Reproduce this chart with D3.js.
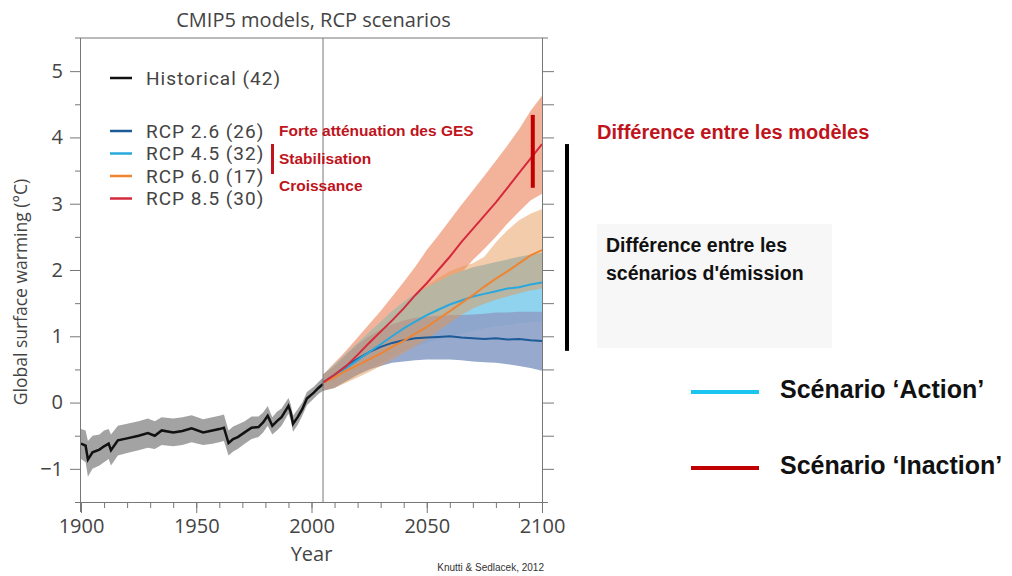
<!DOCTYPE html>
<html>
<head>
<meta charset="utf-8">
<script src="https://cdn.jsdelivr.net/npm/d3@7"></script>
<style>
  body { margin: 0; background: #fff; }
  svg { display: block; }
  .tick text { font-family: "Open Sans", sans-serif; fill: #444; }
  .narrow { font-family: "Liberation Sans Narrow", "Arial Narrow", sans-serif; font-weight: bold; }
</style>
</head>
<body>
<svg id="chart"></svg>
<script>
// historical (CMIP5 multi-model mean and spread)
const histYears = [1900,1902,1903,1905,1908,1910,1912,1913,1916,1920,1925,1929,1932,1935,1940,1944,1948,1953,1957,1960,1962,1964,1966,1968,1971,1974,1977,1979,1981,1983,1985,1987,1990,1991,1992,1994,1996,1998,2001,2003,2005];
const histMean = [-0.62,-0.65,-0.86,-0.75,-0.71,-0.66,-0.62,-0.72,-0.57,-0.54,-0.50,-0.46,-0.50,-0.42,-0.45,-0.43,-0.39,-0.45,-0.42,-0.40,-0.38,-0.61,-0.55,-0.52,-0.45,-0.38,-0.37,-0.30,-0.20,-0.35,-0.28,-0.22,-0.05,-0.15,-0.32,-0.22,-0.10,0.06,0.15,0.22,0.28];
const histLow = [-0.85,-0.90,-1.12,-1.00,-0.95,-0.90,-0.85,-0.95,-0.80,-0.76,-0.72,-0.68,-0.70,-0.64,-0.66,-0.64,-0.60,-0.64,-0.62,-0.60,-0.58,-0.80,-0.74,-0.70,-0.62,-0.55,-0.52,-0.45,-0.35,-0.48,-0.42,-0.35,-0.17,-0.27,-0.44,-0.34,-0.20,-0.04,0.06,0.13,0.18];
const histHigh = [-0.40,-0.42,-0.58,-0.50,-0.48,-0.42,-0.40,-0.48,-0.35,-0.32,-0.28,-0.24,-0.28,-0.22,-0.24,-0.22,-0.19,-0.25,-0.22,-0.20,-0.18,-0.42,-0.36,-0.33,-0.28,-0.21,-0.21,-0.15,-0.05,-0.22,-0.14,-0.09,0.07,-0.03,-0.20,-0.10,0.00,0.16,0.24,0.31,0.38];

// scenarios 2005-2100
const futureYears = [2005,2010,2015,2020,2025,2030,2035,2040,2045,2050,2055,2060,2065,2070,2075,2080,2085,2090,2095,2100];
const rcp26Mean = [0.30,0.42,0.55,0.66,0.76,0.84,0.90,0.94,0.97,0.98,0.99,1.00,0.98,0.97,0.96,0.97,0.95,0.96,0.94,0.93];
const rcp26Low  = [0.18,0.22,0.32,0.42,0.50,0.55,0.60,0.62,0.64,0.65,0.65,0.65,0.64,0.62,0.61,0.60,0.58,0.55,0.52,0.48];
const rcp26High = [0.42,0.55,0.72,0.88,1.00,1.10,1.18,1.24,1.28,1.30,1.31,1.32,1.32,1.33,1.34,1.36,1.36,1.37,1.37,1.37];
const rcp45Mean = [0.30,0.42,0.52,0.64,0.76,0.88,1.00,1.12,1.22,1.32,1.40,1.48,1.54,1.60,1.64,1.68,1.72,1.74,1.78,1.81];
const rcp45Low  = [0.18,0.24,0.32,0.42,0.50,0.60,0.70,0.78,0.85,0.90,0.95,1.00,1.04,1.08,1.12,1.15,1.17,1.20,1.21,1.22];
const rcp45High = [0.42,0.58,0.74,0.90,1.06,1.22,1.38,1.52,1.64,1.74,1.83,1.92,1.98,2.04,2.08,2.12,2.16,2.20,2.23,2.26];
const rcp60Mean = [0.30,0.38,0.48,0.56,0.65,0.74,0.84,0.93,1.04,1.14,1.26,1.38,1.50,1.62,1.75,1.87,1.98,2.10,2.22,2.30];
const rcp60Low  = [0.18,0.22,0.30,0.38,0.46,0.55,0.65,0.75,0.85,0.95,1.08,1.20,1.32,1.42,1.49,1.55,1.60,1.65,1.69,1.72];
const rcp60High = [0.42,0.58,0.74,0.90,1.06,1.22,1.38,1.52,1.64,1.76,1.88,1.98,2.05,2.10,2.20,2.42,2.60,2.75,2.85,2.92];
const rcp85Mean = [0.30,0.42,0.55,0.72,0.90,1.07,1.24,1.42,1.62,1.80,2.00,2.20,2.42,2.62,2.82,3.02,3.24,3.46,3.68,3.90];
const rcp85Low  = [0.18,0.25,0.35,0.45,0.60,0.75,0.90,1.05,1.20,1.35,1.55,1.75,1.95,2.15,2.32,2.50,2.70,2.88,3.05,3.15];
const rcp85High = [0.42,0.60,0.78,0.98,1.18,1.38,1.60,1.82,2.05,2.30,2.52,2.75,2.98,3.20,3.42,3.65,3.88,4.12,4.40,4.63];

const scenarioNames = ["RCP 2.6 (26)", "RCP 4.5 (32)", "RCP 6.0 (17)", "RCP 8.5 (30)"];
const lineColors = ["#1d5a98", "#2aa8dd", "#ef8433", "#d62a3c"];
const bandColors = ["#8ea2c9", "#8fd3ee", "#e69650", "#f3b39b"];
const annotations = ["Forte atténuation des GES", "Stabilisation", "Croissance"];

const width = 1012;
const height = 576;
const x0 = 81, x1 = 542, yTop = 38, yBottom = 502;

const svg = d3.select("#chart")
  .attr("width", width)
  .attr("height", height);

const xScale = d3.scaleLinear().domain([1900, 2100]).range([x0, x1]);
const yScale = d3.scaleLinear().domain([-1.5, 5.5]).range([yBottom, yTop]);

const scenarios = [
  {mean: rcp26Mean, low: rcp26Low, high: rcp26High},
  {mean: rcp45Mean, low: rcp45Low, high: rcp45High},
  {mean: rcp60Mean, low: rcp60Low, high: rcp60High},
  {mean: rcp85Mean, low: rcp85Low, high: rcp85High}
];

const band = (years, low, high) => d3.area()
  .x((d, i) => xScale(years[i]))
  .y0((d, i) => yScale(low[i]))
  .y1((d, i) => yScale(high[i]))(years);
const line = (years, vals) => d3.line()
  .x((d, i) => xScale(years[i]))
  .y((d, i) => yScale(vals[i]))(years);

// bands: 8.5 at the back, 6.0 translucent on top
const plot = svg.append("g");
const bandOpacity = [0.92, 1, 0.48, 1];
[3, 1, 0, 2].forEach(k => {
  plot.append("path")
    .attr("d", band(futureYears, scenarios[k].low, scenarios[k].high))
    .attr("fill", bandColors[k])
    .attr("fill-opacity", bandOpacity[k]);
});
plot.append("path")
  .attr("d", band(histYears, histLow, histHigh))
  .attr("fill", "#a3a3a3");

// mean lines
[0, 1, 2, 3].forEach(k => {
  plot.append("path")
    .attr("d", line(futureYears, scenarios[k].mean))
    .attr("fill", "none")
    .attr("stroke", lineColors[k])
    .attr("stroke-width", 2);
});
plot.append("path")
  .attr("d", line(histYears, histMean))
  .attr("fill", "none")
  .attr("stroke", "#111")
  .attr("stroke-width", 2.5);

// frame
const axisColor = "#777";
svg.append("line").attr("x1", x0 - 6).attr("x2", x1 + 6).attr("y1", yTop).attr("y2", yTop).attr("stroke", axisColor);
svg.append("line").attr("x1", xScale(2005)).attr("x2", xScale(2005)).attr("y1", yTop).attr("y2", yBottom).attr("stroke", axisColor);

// x axis
const xMinor = svg.append("g")
  .attr("transform", `translate(0, ${yBottom})`)
  .call(d3.axisBottom(xScale).tickValues(d3.range(1900, 2101, 10)).tickSize(6).tickFormat(""));
const xMajor = svg.append("g")
  .attr("transform", `translate(0, ${yBottom})`)
  .call(d3.axisBottom(xScale).tickValues([1900, 1950, 2000, 2050, 2100]).tickSize(11).tickPadding(6).tickFormat(d3.format("d")));
[xMinor, xMajor].forEach(g => {
  g.select(".domain").attr("d", `M${x0 - 6},0.5H${x1 + 6}`).attr("stroke", axisColor);
  g.selectAll(".tick line").attr("stroke", axisColor);
});
xMajor.selectAll(".tick text").style("font-size", "20px");

// y axis (left)
const yMinor = svg.append("g")
  .attr("transform", `translate(${x0}, 0)`)
  .call(d3.axisLeft(yScale).tickValues([-1.5, -0.5, 0.5, 1.5, 2.5, 3.5, 4.5]).tickSize(6).tickFormat(""));
const yMajor = svg.append("g")
  .attr("transform", `translate(${x0}, 0)`)
  .call(d3.axisLeft(yScale).tickValues([-1, 0, 1, 2, 3, 4, 5]).tickSize(11).tickPadding(7).tickFormat(d3.format("d")));
[yMinor, yMajor].forEach(g => {
  g.select(".domain").attr("d", `M-0.5,${yTop}V${yBottom + 10}`).attr("stroke", axisColor);
  g.selectAll(".tick line").attr("stroke", axisColor);
});
yMajor.selectAll(".tick text").style("font-size", "20px");

// y axis (right)
const yRight = svg.append("g")
  .attr("transform", `translate(${x1}, 0)`)
  .call(d3.axisRight(yScale).tickValues([-1, -0.5, 0, 0.5, 1, 1.5, 2, 2.5, 3, 3.5, 4, 4.5, 5]).tickSize(12).tickFormat(""));
yRight.select(".domain").attr("d", `M0.5,${yTop}V${yBottom + 10}`).attr("stroke", axisColor);
yRight.selectAll(".tick line").attr("stroke", axisColor);

// titles
svg.append("text")
  .attr("x", (x0 + x1) / 2 + 2).attr("y", 27)
  .attr("text-anchor", "middle")
  .style("font-family", "Open Sans, sans-serif").style("font-size", "20px").style("fill", "#444")
  .text("CMIP5 models, RCP scenarios");
svg.append("text")
  .attr("x", (x0 + x1) / 2).attr("y", 561)
  .attr("text-anchor", "middle")
  .style("font-family", "Open Sans, sans-serif").style("font-size", "20px").style("fill", "#444")
  .text("Year");
svg.append("text")
  .attr("transform", "translate(27, 292) rotate(-90)")
  .attr("text-anchor", "middle")
  .style("font-family", "Open Sans, sans-serif").style("font-size", "17.5px").style("fill", "#444")
  .text("Global surface warming (°C)");
svg.append("text")
  .attr("x", 544).attr("y", 571)
  .attr("text-anchor", "end")
  .style("font-family", "Liberation Sans, Arial, sans-serif").style("font-size", "10px").style("fill", "#333")
  .text("Knutti & Sedlacek, 2012");

// legend
const legend = svg.append("g").style("font-family", "Roboto, sans-serif").style("fill", "#444")
  .style("font-size", "19px").style("letter-spacing", "1px");
legend.append("line").attr("x1", 110).attr("x2", 132).attr("y1", 78).attr("y2", 78).attr("stroke", "#111").attr("stroke-width", 2.5);
legend.append("text").attr("x", 146).attr("y", 78).attr("dy", "0.35em").text("Historical (42)");
const legendY = [131, 153.5, 176, 198.5];
scenarioNames.forEach((name, i) => {
  legend.append("line").attr("x1", 110).attr("x2", 132).attr("y1", legendY[i]).attr("y2", legendY[i])
    .attr("stroke", lineColors[i]).attr("stroke-width", 2.5);
  legend.append("text").attr("x", 146).attr("y", legendY[i]).attr("dy", "0.35em").text(name);
});

// scenario annotations
const annY = [136, 164, 191];
annotations.forEach((t, i) => {
  svg.append("text").attr("class", "narrow").attr("x", 279).attr("y", annY[i])
    .style("font-size", "15.5px").style("fill", "#c0141c").text(t);
});
svg.append("rect").attr("x", 271).attr("y", 144).attr("width", 3).attr("height", 30).attr("fill", "#c0141c");

// model spread bar (red) and scenario spread bar (black)
svg.append("rect")
  .attr("x", xScale(2096) - 2).attr("width", 4)
  .attr("y", yScale(4.34)).attr("height", yScale(3.24) - yScale(4.34))
  .attr("fill", "#c00000");
svg.append("rect")
  .attr("x", 565).attr("width", 4)
  .attr("y", yScale(3.9)).attr("height", yScale(0.78) - yScale(3.9))
  .attr("fill", "#000");

svg.append("text").attr("class", "narrow").attr("x", 597).attr("y", 139)
  .style("font-size", "20px").style("fill", "#c0141c").text("Différence entre les modèles");

svg.append("rect").attr("x", 597).attr("y", 224).attr("width", 235).attr("height", 124).attr("fill", "#f7f7f7");
svg.append("text").attr("class", "narrow").attr("x", 606).attr("y", 252)
  .style("font-size", "19.5px").style("fill", "#111").text("Différence entre les");
svg.append("text").attr("class", "narrow").attr("x", 606).attr("y", 280)
  .style("font-size", "19.5px").style("fill", "#111").text("scénarios d'émission");

// Action / Inaction key
svg.append("line").attr("x1", 691).attr("x2", 759).attr("y1", 392).attr("y2", 392).attr("stroke", "#1cc4f0").attr("stroke-width", 4);
svg.append("text").attr("class", "narrow").attr("x", 780).attr("y", 398)
  .style("font-size", "25px").style("fill", "#111").text("Scénario ‘Action’");
svg.append("line").attr("x1", 691).attr("x2", 759).attr("y1", 468).attr("y2", 468).attr("stroke", "#c00000").attr("stroke-width", 4);
svg.append("text").attr("class", "narrow").attr("x", 780).attr("y", 474)
  .style("font-size", "25px").style("fill", "#111").text("Scénario ‘Inaction’");
</script>
</body>
</html>
